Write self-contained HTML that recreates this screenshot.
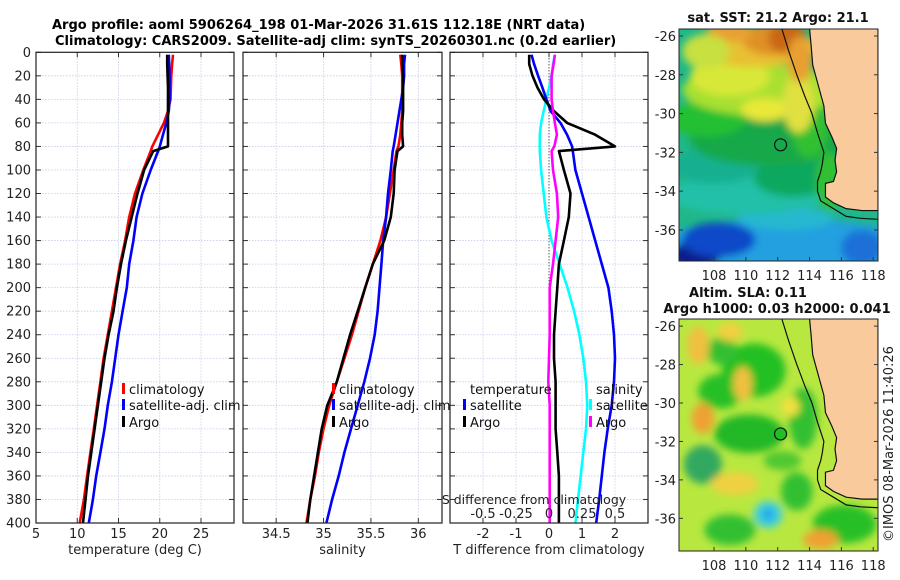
<!DOCTYPE html>
<html><head><meta charset="utf-8">
<style>
html,body{margin:0;padding:0;background:#fff;}
svg{display:block;font-family:"DejaVu Sans","Liberation Sans",sans-serif;}
</style></head>
<body>
<svg id="fig" width="900" height="580" viewBox="0 0 900 580" xmlns="http://www.w3.org/2000/svg">
<defs>
<filter id="blur" x="-20%" y="-20%" width="140%" height="140%"><feGaussianBlur stdDeviation="4"/></filter>
<clipPath id="clipSST"><rect x="679" y="29" width="199" height="232"/></clipPath>
<clipPath id="clipSLA"><rect x="679" y="319" width="199" height="232"/></clipPath>
</defs>
<text x="52" y="29" font-size="13" font-weight="bold">Argo profile: aoml 5906264_198 01-Mar-2026 31.61S 112.18E (NRT data)</text>
<text x="55" y="45" font-size="13" font-weight="bold">Climatology: CARS2009. Satellite-adj clim: synTS_20260301.nc (0.2d earlier)</text>
<g id="panels"></g>
<g id="maps"></g>
<text transform="translate(893,542) rotate(-90)" font-size="13" fill="#222">©IMOS 08-Mar-2026 11:40:26</text>
</svg>
<script>
// ---- profile data ----
const depths = [2,10,20,30,40,50,60,70,80,84,100,120,140,160,180,200,220,240,260,280,300,320,340,360,380,400];
const climT = [21.6,21.5,21.4,21.35,21.3,21.0,20.5,19.8,19.1,18.9,18.0,17.0,16.3,15.8,15.2,14.7,14.2,13.7,13.2,12.8,12.4,12.0,11.6,11.2,10.8,10.3];
const satT  = [21.1,21.15,21.2,21.2,21.2,21.1,20.8,20.4,20.0,19.8,18.9,17.9,17.2,16.8,16.3,16.0,15.5,15.0,14.6,14.2,13.7,13.3,12.8,12.3,11.9,11.4];
const argoT = [20.9,20.9,20.95,21.0,21.0,21.0,21.0,21.0,21.0,19.2,18.1,17.3,16.6,15.9,15.3,14.8,14.4,13.8,13.3,12.9,12.5,12.1,11.7,11.3,11.0,10.7];
const climS = [35.81,35.82,35.83,35.83,35.83,35.83,35.82,35.81,35.79,35.77,35.74,35.70,35.66,35.60,35.52,35.44,35.37,35.30,35.22,35.14,35.06,35.00,34.95,34.91,34.86,34.82];
const satS  = [35.86,35.85,35.85,35.84,35.82,35.80,35.78,35.76,35.74,35.73,35.71,35.68,35.66,35.63,35.61,35.59,35.57,35.54,35.49,35.43,35.36,35.29,35.22,35.16,35.09,35.03];
const argoS = [35.83,35.83,35.84,35.84,35.84,35.84,35.83,35.83,35.84,35.78,35.75,35.74,35.71,35.64,35.52,35.44,35.36,35.28,35.21,35.14,35.04,34.98,34.94,34.90,34.86,34.83];
const dTsat  = [-0.53,-0.45,-0.33,-0.2,-0.08,0.05,0.35,0.55,0.7,0.72,0.8,1.0,1.2,1.4,1.6,1.8,1.9,1.97,2.0,1.97,1.9,1.78,1.68,1.6,1.52,1.43];
const dTargo = [-0.6,-0.6,-0.5,-0.35,-0.15,0.15,0.55,1.4,2.0,0.3,0.45,0.65,0.6,0.45,0.3,0.25,0.2,0.15,0.15,0.2,0.2,0.2,0.25,0.3,0.3,0.3];
const dSsat  = [0.045,0.03,0.02,0.0,-0.02,-0.04,-0.06,-0.07,-0.07,-0.07,-0.06,-0.04,-0.02,0.02,0.08,0.14,0.19,0.23,0.26,0.28,0.29,0.28,0.26,0.24,0.22,0.2];
const dSargo = [0.045,0.035,0.02,0.02,0.02,0.03,0.045,0.06,0.04,0.02,0.03,0.06,0.07,0.05,0.03,0.005,0.005,0.005,0,-0.005,0.005,0.005,0.005,0.005,0.005,0.005];
const depthTicks = [0,20,40,60,80,100,120,140,160,180,200,220,240,260,280,300,320,340,360,380,400];
const tempTicks = [5,10,15,20,25];
const salTicks = [34.5,35,35.5,36];
const tdTicks = [-2,-1,0,1,2];
const sdTicks = [-0.5,-0.25,0,0.25,0.5];
const sdTickLabels = ['-0.5','-0.25','0','0.25','0.5'];

const NS='http://www.w3.org/2000/svg';
function mk(tag, attrs, parent){const e=document.createElementNS(NS,tag);for(const k in attrs)e.setAttribute(k,attrs[k]);parent.appendChild(e);return e;}
const panels=document.getElementById('panels');
const Y0=52.3, Y1=523;
function yD(d){return Y0+d/400*(Y1-Y0);}
function lin(d0,d1,r0,r1){return v=>r0+(v-d0)/(d1-d0)*(r1-r0);}
const P=[
 {name:'temperature',x0:36,x1:234,f:lin(5,29,36,234)},
 {name:'salinity',x0:243,x1:442,f:lin(34.15,36.25,243,442)},
 {name:'difference',x0:450,x1:648,f:lin(-3,3,450,648)}
];
const fS=lin(-0.75,0.75,450,648);

P.forEach((p,i)=>{
  const g=mk('g',{},panels);
  
  
  const ticksX = i==0?tempTicks:(i==1?salTicks:tdTicks);
  depthTicks.forEach(d=>{
    const l=mk('line',{x1:p.x0,x2:p.x1,y1:yD(d),y2:yD(d),stroke:'#c4cce8','stroke-width':0.8,'stroke-dasharray':'1.5,1.5'},g);
    
    
    mk('line',{x1:p.x0,x2:p.x0+5,y1:yD(d),y2:yD(d),stroke:'#333','stroke-width':1},g);
    mk('line',{x1:p.x1,x2:p.x1-5,y1:yD(d),y2:yD(d),stroke:'#333','stroke-width':1},g);
    if(i==0){
      const t=mk('text',{x:31,y:yD(d)+4.5,'text-anchor':'end','font-size':13,fill:'#222'},g);
      t.textContent=d;
      
      
    }
  });
  ticksX.forEach(v=>{
    const x=p.f(v);
    const l=mk('line',{x1:x,x2:x,y1:Y0,y2:Y1,stroke:'#c4cce8','stroke-width':0.8,'stroke-dasharray':'1.5,1.5'},g);
    
    
    mk('line',{x1:x,x2:x,y1:Y0,y2:Y0+5,stroke:'#333','stroke-width':1},g);
    mk('line',{x1:x,x2:x,y1:Y1,y2:Y1-5,stroke:'#333','stroke-width':1},g);
    const t=mk('text',{x:x,y:538,'text-anchor':'middle','font-size':13,fill:'#222'},g);
    t.textContent=v;
    
    
  });
  const xl=mk('text',{x:(p.x0+p.x1)/2,y:554,'text-anchor':'middle','font-size':13,fill:'#222'},g);
  xl.textContent=['temperature (deg C)','salinity','T difference from climatology'][i];
  
  
  p.g=g;
});

function series(g,xs,f,color,name){
  const pts=depths.map((d,k)=>f(xs[k]).toFixed(1)+','+yD(d).toFixed(1)).join(' ');
  const pl=mk('polyline',{points:pts,fill:'none',stroke:color,'stroke-width':2.6,'stroke-linejoin':'round'},g);
  
  
}
mk('line',{x1:P[2].f(0),x2:P[2].f(0),y1:Y0,y2:Y1,stroke:'#222','stroke-width':1,'stroke-dasharray':'1,2'},P[2].g);

series(P[0].g,climT,P[0].f,'#ff0000','climatology-temperature-line');
series(P[0].g,satT,P[0].f,'#0000ff','satellite-temperature-line');
series(P[0].g,argoT,P[0].f,'#000000','argo-temperature-line');
series(P[1].g,climS,P[1].f,'#ff0000','climatology-salinity-line');
series(P[1].g,satS,P[1].f,'#0000ff','satellite-salinity-line');
series(P[1].g,argoS,P[1].f,'#000000','argo-salinity-line');
series(P[2].g,dSsat,fS,'#00ffff','satellite-salinity-diff-line');
series(P[2].g,dTsat,P[2].f,'#0000ff','satellite-temperature-diff-line');
series(P[2].g,dTargo,P[2].f,'#000000','argo-temperature-diff-line');
series(P[2].g,dSargo,fS,'#ff00ff','argo-salinity-diff-line');

P.forEach(p=>{
  const r=mk('rect',{x:p.x0,y:Y0,width:p.x1-p.x0,height:Y1-Y0,fill:'none',stroke:'#222','stroke-width':1.2},p.g);
  
  
});

const sl=mk('text',{x:534,y:504,'text-anchor':'middle','font-size':12.5,fill:'#222'},P[2].g);
sl.textContent='S difference from climatology';


sdTicks.forEach((v,k)=>{
  const t=mk('text',{x:fS(v),y:518,'text-anchor':'middle','font-size':13,fill:'#222'},P[2].g);
  t.textContent=sdTickLabels[k];
  
  
});

function legend(g,x,items,name){
  const lg=mk('g',{},g);
  
  
  items.forEach(it=>{
    if(it[0]) mk('rect',{x:x-7,y:it[2]-6,width:3,height:11,fill:it[0]},lg);
    const t=mk('text',{x:x,y:it[2]+5,'font-size':13,fill:'#111'},lg);
    t.textContent=it[1];
  });
}
legend(P[0].g,129,[['#ff0000','climatology',389],['#0000ff','satellite-adj. clim',405],['#000','Argo',422]],'temperature-legend');
legend(P[1].g,339,[['#ff0000','climatology',389],['#0000ff','satellite-adj. clim',405],['#000','Argo',422]],'salinity-legend');
legend(P[2].g,470,[[null,'temperature',389],['#0000ff','satellite',405],['#000','Argo',422]],'temperature-diff-legend');
legend(P[2].g,596,[[null,'salinity',389],['#00ffff','satellite',405],['#ff00ff','Argo',422]],'salinity-diff-legend');

// ---- maps ----
const maps=document.getElementById('maps');
const lonTicks=[108,110,112,114,116,118];
const latTicks=[-26,-28,-30,-32,-34,-36];
const argoLon=112.18, argoLat=-31.61;
const land=[[114.0,-25.6],[114.1,-26.5],[114.2,-27.5],[114.6,-28.7],[114.9,-29.6],[115.0,-30.5],[115.4,-31.2],[115.7,-31.8],[115.6,-32.4],[115.7,-33.0],[115.5,-33.5],[115.0,-33.6],[115.0,-34.3],[115.5,-34.6],[116.3,-34.9],[117.3,-35.0],[118.0,-35.0],[118.3,-35.0],[118.3,-25.6]];
const shelf=[[112.25,-25.6],[112.7,-26.8],[113.2,-28.0],[113.7,-29.1],[114.15,-30.0],[114.5,-31.0],[114.9,-32.0],[114.8,-32.6],[114.7,-33.0],[114.5,-33.5],[114.5,-34.0],[114.7,-34.5],[115.5,-34.9],[116.3,-35.3],[117.2,-35.4],[118.3,-35.45]];
const sstBlobs=[
 [112.5,-36.8,8,1.4,'#20a0e0'],[106.8,-37.3,1.6,0.7,'#0a1c8c'],[108.3,-36.5,2.3,0.9,'#1048c8'],[117.3,-36.9,1.3,0.9,'#1c70d8'],[112.5,-35.4,3,0.6,'#28b8d0'],
 [110,-34.2,5,1.0,'#22c0a8'],[108,-32.7,3,0.9,'#18b090'],[113,-33.3,2.5,1.0,'#10a860'],
 [111.5,-31.4,5,1.3,'#14a848'],[107.5,-30.3,2.5,0.9,'#22c030'],[114,-30.5,1.2,1.8,'#30c030'],[115.2,-33.5,0.8,1.5,'#30c030'],
 [111,-28.8,5,1.3,'#a8e030'],[109,-28.1,2.5,1.0,'#d8e838'],[111.2,-29.8,1.5,0.6,'#e8e838'],[113.3,-29.5,1.0,1.5,'#e0e040'],
 [110.5,-26.6,4,1.0,'#e8c030'],[111.8,-26.2,2,0.8,'#e09028'],[112.6,-26.1,1.2,0.8,'#c86818'],[113.4,-27.2,0.8,1.2,'#e8a030'],[109,-25.8,1.5,0.5,'#e8a030'],[107.5,-26.8,1.5,0.9,'#c8e040']
];
const slaBlobs=[
 [110.5,-28.3,2.0,1.4,'#20c020'],[108.4,-29.4,1.4,0.9,'#28c028'],[110.2,-31.6,2.2,1.0,'#20b828'],[107.3,-33.2,1.2,1.0,'#30a860'],[113.6,-30.8,0.9,1.6,'#30c030'],
 [116.2,-36.3,2.0,1.0,'#28c028'],[109,-36.6,1.6,0.8,'#30c030'],[113.2,-34.6,1.0,1.0,'#30c030'],[108.5,-27.3,1.0,0.7,'#30c030'],[112.3,-33.0,1.2,0.5,'#50c830'],
 [107.3,-30.8,0.7,0.8,'#f0a030'],[109.8,-29.0,0.6,0.9,'#f0c040'],[107.0,-27.0,0.7,1.0,'#f0c040'],[109,-26.3,0.8,0.5,'#f0d040'],[114.7,-37.1,1.1,0.5,'#f0a030'],
 [109.3,-34.2,1.5,0.6,'#f0d040'],[112.8,-30.2,0.6,0.5,'#f0e040'],[111.4,-35.8,0.9,0.7,'#40d0e0'],[111.4,-35.8,0.4,0.35,'#20a8e8']
];
function drawMap(y0,latTop,latBot,bg,blobs,clip,name,filled){
  const g=mk('g',{},maps);
  
  
  const fx=lin(105.8,118.3,679,878), fy=lin(latTop,latBot,y0,y0+232);
  const inner=mk('g',{'clip-path':'url(#'+clip+')'},g);
  mk('rect',{x:679,y:y0,width:199,height:232,fill:bg},inner);
  const bl=mk('g',{filter:'url(#blur)'},inner);
  blobs.forEach(b=>{
    mk('ellipse',{cx:fx(b[0]),cy:fy(b[1]),rx:fx(b[0]+b[2])-fx(b[0]),ry:fy(b[1]-b[3])-fy(b[1]),fill:b[4]},bl);
  });
  const lp=mk('polygon',{points:land.map(p=>fx(p[0])+','+fy(p[1])).join(' '),fill:'#f9cb9c',stroke:'#111','stroke-width':1.2},inner);
  
  
  const sp=mk('polyline',{points:shelf.map(p=>fx(p[0])+','+fy(p[1])).join(' '),fill:'none',stroke:'#111','stroke-width':1.2},inner);
  
  
  const c=mk('circle',{cx:fx(argoLon),cy:fy(argoLat),r:6,fill:filled?'#20c020':'none',stroke:'#111','stroke-width':1.2},g);
  
  
  mk('rect',{x:679,y:y0,width:199,height:232,fill:'none',stroke:'#222','stroke-width':1},g);
  lonTicks.forEach(v=>{
    const t=mk('text',{x:fx(v),y:y0+251,'text-anchor':'middle','font-size':13,fill:'#222'},g);
    t.textContent=v;
    mk('line',{x1:fx(v),x2:fx(v),y1:y0+232,y2:y0+228,stroke:'#333'},g);
  });
  latTicks.forEach(v=>{
    const t=mk('text',{x:676,y:fy(v)+5,'text-anchor':'end','font-size':13,fill:'#222'},g);
    t.textContent=v;
    mk('line',{x1:679,x2:683,y1:fy(v),y2:fy(v),stroke:'#333'},g);
    mk('line',{x1:878,x2:874,y1:fy(v),y2:fy(v),stroke:'#333'},g);
  });
}
drawMap(29,-25.64,-37.6,'#20b888',sstBlobs,'clipSST','sst-map',false);
drawMap(319,-25.63,-37.7,'#b8e840',slaBlobs,'clipSLA','sla-map',true);
function txt(x,y,s,name){const t=mk('text',{x:x,y:y,'text-anchor':'middle','font-size':13,'font-weight':'bold',fill:'#111'},maps);t.textContent=s;}
txt(778,22,'sat. SST: 21.2 Argo: 21.1','sst-map-title');
txt(748,297,'Altim. SLA: 0.11','sla-map-title');
txt(777,313,'Argo h1000: 0.03 h2000: 0.041','argo-height-title');
</script>
</body></html>
